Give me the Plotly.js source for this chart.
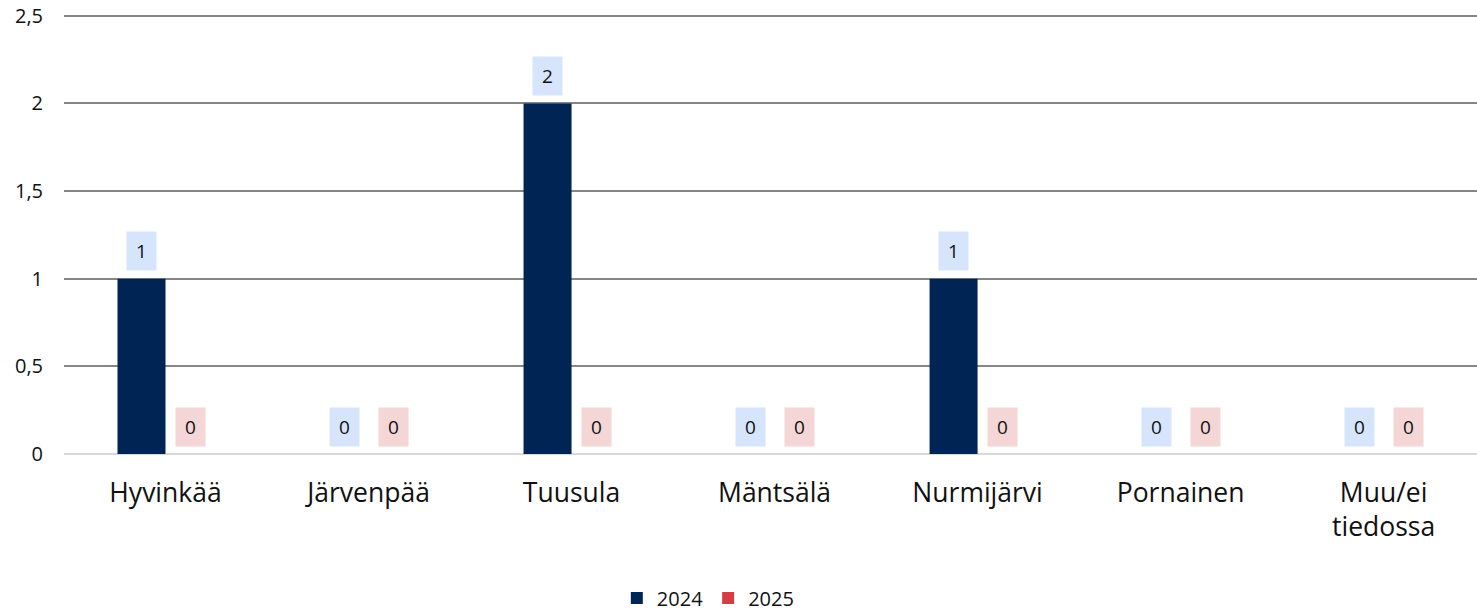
<!DOCTYPE html>
<html>
<head>
<meta charset="utf-8">
<script src="https://cdn.plot.ly/plotly-3.0.1.min.js"></script>
<style>html,body{margin:0;padding:0;background:#fff;}#chart{width:1477px;height:613px;}</style>
</head>
<body>
<div id="chart"></div>
<script>
const categories = ["Hyvinkää", "Järvenpää", "Tuusula", "Mäntsälä", "Nurmijärvi", "Pornainen", "Muu/ei<br>tiedossa"];
const values2024 = [1, 0, 2, 0, 1, 0, 0];
const values2025 = [0, 0, 0, 0, 0, 0, 0];
const seriesNames = ["2024", "2025"];
const yTicks = [0, 0.5, 1, 1.5, 2, 2.5];

const FONT = "'Open Sans', sans-serif";
const barColors = ["#002554", "#D13F44"];
const labelBg = ["#D6E5FB", "#F4D6D6"];
const shifts = [-24, 24.5];

const traces = [values2024, values2025].map((vals, i) => ({
  type: "bar",
  name: seriesNames[i],
  x: categories,
  y: vals,
  marker: {color: barColors[i]},
  hoverinfo: "x+y+name"
}));

const annotations = [];
[values2024, values2025].forEach((vals, i) => {
  vals.forEach((v, j) => {
    annotations.push({
      x: categories[j], y: v, xref: "x", yref: "y",
      text: String(v).replace(".", ","),
      showarrow: false, xshift: shifts[i], yanchor: "bottom", yshift: 7.5,
      bgcolor: labelBg[i], borderpad: 6, width: 17, height: 26,
      font: {family: FONT, size: 19, color: "#111"}
    });
  });
});

const layout = {
  width: 1477, height: 613,
  margin: {l: 64, r: 0, t: 14, b: 159, autoexpand: false},
  paper_bgcolor: "#fff", plot_bgcolor: "#fff",
  separators: ", ",
  barmode: "group", bargap: 0.527, bargroupgap: 0,
  font: {family: FONT, size: 19, color: "#111"},
  xaxis: {
    type: "category", range: [-0.5, 6.46],
    showgrid: false, zeroline: false, showline: false, ticks: "",
    tickfont: {family: FONT, size: 26.5, color: "#111"},
    ticklabelstandoff: 20
  },
  yaxis: {
    range: [0, 2.51], tickvals: yTicks,
    ticktext: yTicks.map(t => String(t).replace(".", ",")),
    showgrid: true, gridcolor: "#868686", gridwidth: 2,
    zeroline: true, zerolinecolor: "#d9d9d9", zerolinewidth: 2.5,
    showline: false, ticks: "",
    tickfont: {family: FONT, size: 20, color: "#111"},
    ticklabelstandoff: 20
  },
  showlegend: true,
  legend: {
    orientation: "h", x: 0.456, xanchor: "center", y: -0.327, yanchor: "middle",
    font: {family: FONT, size: 20, color: "#111"},
    traceorder: "normal"
  },
  annotations: annotations
};

Plotly.newPlot("chart", traces, layout, {displayModeBar: false, staticPlot: true});
</script>
</body>
</html>
